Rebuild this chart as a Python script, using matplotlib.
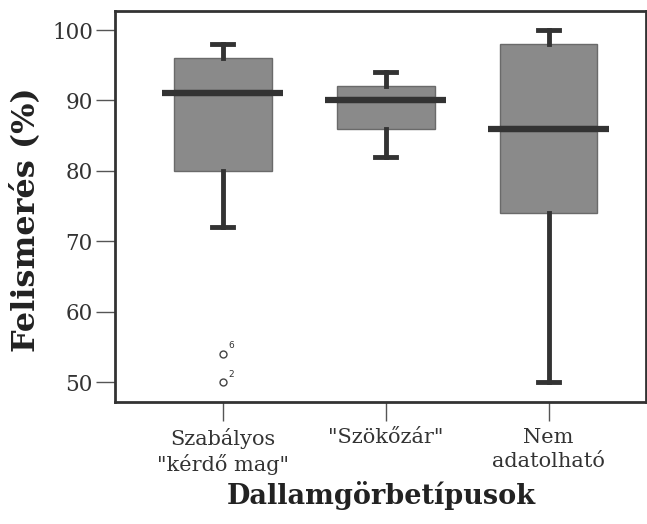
import matplotlib.pyplot as plt

# Dallamgörbetípusok - boxplot adatok (leolvasva)
categories = ['Szabályos\n"kérdő mag"', '"Szökőzár"', 'Nem\nadatolható']
q1 = [80, 86, 74]
med = [91, 90, 86]
q3 = [96, 92, 98]
whislo = [72, 82, 50]
whishi = [98, 94, 100]
fliers = [[54, 50], [], []]
flier_ids = [['6', '2'], [], []]

yticks = [50, 60, 70, 80, 90, 100]

plt.rcParams['font.family'] = ['DejaVu Serif']

stats = []
for i in range(len(categories)):
    stats.append({'q1': q1[i], 'med': med[i], 'q3': q3[i],
                  'whislo': whislo[i], 'whishi': whishi[i],
                  'fliers': fliers[i], 'label': categories[i]})

fig = plt.figure(figsize=(6.47, 5.24), dpi=100)
ax = fig.add_axes([0.178, 0.233, 0.821, 0.746])

dark = '#333333'
ax.bxp(stats, positions=[1, 2, 3], widths=0.6, patch_artist=True,
       boxprops=dict(facecolor='#8a8a8a', edgecolor='#6a6a6a', linewidth=1),
       medianprops=dict(color=dark, linewidth=4.5, solid_capstyle='butt'),
       whiskerprops=dict(color=dark, linewidth=3.5),
       capprops=dict(color=dark, linewidth=3.5),
       capwidths=0.13,
       flierprops=dict(marker='o', markersize=5, markerfacecolor='white',
                       markeredgecolor='#444444', markeredgewidth=1))

# elnyújtott medián vonalak
for i, m in enumerate(med):
    ax.plot([i + 1 - 0.37, i + 1 + 0.37], [m, m], color=dark, lw=4.5,
            solid_capstyle='butt', zorder=4)

# kiugró értékek azonosítói
for i in range(len(categories)):
    for v, lab in zip(fliers[i], flier_ids[i]):
        ax.annotate(lab, (i + 1, v), xytext=(4, 4), textcoords='offset points',
                    fontsize=6.5, family='DejaVu Sans', color='#333333')

ax.set_xlim(0.34, 3.6)
ax.set_ylim(47.2, 102.7)
ax.set_yticks(yticks)
ax.set_yticklabels([str(t) for t in yticks], fontsize=15.5, color='#333333')
ax.set_xticklabels(categories, fontsize=15, color='#333333', linespacing=1.3)
ax.tick_params(axis='both', length=14, width=1, color='#555555', pad=2)
ax.tick_params(axis='x', pad=5)

for s in ax.spines.values():
    s.set_linewidth(2)
    s.set_color('#333333')

ax.set_ylabel('Felismerés (%)', fontsize=23, fontweight='bold', color='#222222')
ax.yaxis.set_label_coords(-0.14, 0.465)
ax.set_xlabel('Dallamgörbetípusok', fontsize=19.5, fontweight='bold', color='#222222', labelpad=4)

plt.savefig('out.png', dpi=100)
